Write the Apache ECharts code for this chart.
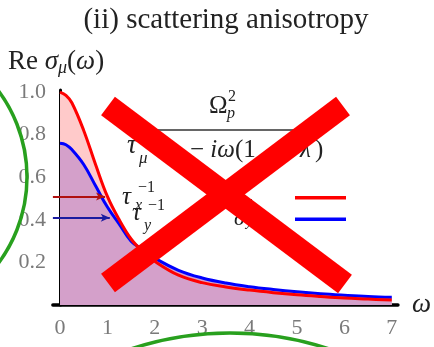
<!DOCTYPE html>
<html>
<head>
<meta charset="utf-8">
<script src="https://cdn.jsdelivr.net/npm/echarts@6/dist/echarts.min.js"></script>
<style>
  html, body { margin: 0; padding: 0; background: #fff; }
  #main { width: 434px; height: 347px; }
</style>
</head>
<body>
<div id="main"></div>
<script>
// values
const omega = [0, 0.125, 0.25, 0.5, 0.75, 1, 1.25, 1.5, 1.75, 2, 2.5, 3, 3.5, 4, 4.5, 5, 5.5, 6, 6.5, 7];
const sigmaX = [1.00, 0.985, 0.95, 0.82, 0.66, 0.51, 0.40, 0.31, 0.25, 0.205, 0.14, 0.105, 0.085, 0.07, 0.058, 0.048, 0.04, 0.033, 0.028, 0.023];
const sigmaY = [0.76, 0.753, 0.73, 0.66, 0.56, 0.46, 0.38, 0.30, 0.26, 0.22, 0.163, 0.127, 0.103, 0.086, 0.073, 0.062, 0.053, 0.046, 0.04, 0.036];
const xTicks = [0, 1, 2, 3, 4, 5, 6, 7];
const yTicks = [0.2, 0.4, 0.6, 0.8, 1.0];
// half-maximum arrows: [height, end omega]
const arrowX = [0.51, 0.95];
const arrowY = [0.41, 1.05];

const serif = '"Liberation Serif", "DejaVu Serif", serif';
const ink = '#222';

function pairs(xs, ys) {
  return xs.map(function (x, i) { return [x, ys[i]]; });
}

function txt(x, y, text, size, italic, align) {
  return {
    type: 'text', x: x, y: y, z: 50,
    style: {
      text: text,
      font: (italic ? 'italic ' : '') + size + 'px ' + serif,
      fill: ink,
      align: align || 'left', textAlign: align || 'left',
      verticalAlign: 'middle', textVerticalAlign: 'middle'
    }
  };
}

function arrowLine(a, color) {
  return {
    silent: true,
    symbol: ['none', 'arrow'],
    symbolSize: [6, 9],
    label: { show: false },
    lineStyle: { color: color, width: 2, type: 'solid' },
    data: [[{ coord: [-0.15, a[0]] }, { coord: [a[1], a[0]] }]]
  };
}

let dom = echarts.init(document.getElementById('main'));
dom.setOption({
  animation: false,
  grid: { left: 52.9, right: 36, top: 90, bottom: 42 },
  legend: {
    orient: 'vertical',
    left: 290, top: 191,
    icon: 'rect',
    itemWidth: 51, itemHeight: 3.5,
    itemGap: 18,
    formatter: function () { return ''; },
    textStyle: { fontSize: 4 },
    selectedMode: false,
    data: ['x', 'y']
  },
  xAxis: {
    type: 'value',
    min: -0.15, max: 7.13,
    name: 'ω',
    nameLocation: 'end',
    nameGap: 14,
    nameTextStyle: { fontFamily: serif, fontStyle: 'italic', fontSize: 27, color: ink, padding: [0, 0, 8, 0] },
    axisLine: { lineStyle: { color: '#000', width: 3.5 } },
    axisTick: { show: false },
    splitLine: { show: false },
    axisLabel: {
      customValues: xTicks,
      margin: 12,
      color: '#7a7a7a',
      fontFamily: serif,
      fontSize: 22
    }
  },
  yAxis: {
    type: 'value',
    min: 0, max: 1.01,
    axisLine: { onZero: true, lineStyle: { color: '#000', width: 3 } },
    axisTick: { show: false },
    splitLine: { show: false },
    axisLabel: {
      customValues: yTicks,
      margin: 7,
      color: '#7a7a7a',
      fontFamily: serif,
      fontSize: 22,
      formatter: function (v) { return v.toFixed(1); }
    }
  },
  series: [
    {
      name: 'xArea', type: 'line', smooth: 0.4, symbol: 'none',
      lineStyle: { width: 0 },
      areaStyle: { color: '#ffcaca', opacity: 1 },
      data: pairs(omega, sigmaX)
    },
    {
      name: 'yArea', type: 'line', smooth: 0.4, symbol: 'none',
      lineStyle: { width: 0 },
      areaStyle: { color: '#d4a0ca', opacity: 1 },
      data: pairs(omega, sigmaY)
    },
    {
      name: 'y', type: 'line', smooth: 0.4, symbol: 'none',
      itemStyle: { color: '#0000ff' },
      lineStyle: { color: '#0000ff', width: 3 },
      markLine: arrowLine(arrowY, '#1a1aa0'),
      data: pairs(omega, sigmaY)
    },
    {
      name: 'x', type: 'line', smooth: 0.4, symbol: 'none',
      itemStyle: { color: '#ff0000' },
      lineStyle: { color: '#ff0000', width: 3 },
      markLine: arrowLine(arrowX, '#b01010'),
      data: pairs(omega, sigmaX)
    }
  ],
  graphic: [
    // title and axis name
    txt(226, 20, '(ii) scattering anisotropy', 29, false, 'center'),
    {
      type: 'text', x: 8, y: 62, z: 50,
      style: {
        text: '{n|Re }{i|σ}{s|μ}{n|(}{i|ω}{n|)}',
        fill: ink, verticalAlign: 'middle', textVerticalAlign: 'middle',
        rich: {
          n: { font: '27px ' + serif, fill: ink },
          i: { font: 'italic 27px ' + serif, fill: ink },
          s: { font: 'italic 18px ' + serif, fill: ink, padding: [13, 0, 0, 0] }
        }
      }
    },
    // formula
    txt(209, 106, 'Ω', 25, false),
    txt(228, 97, '2', 16, false),
    txt(227, 114, 'p', 16, true),
    { type: 'line', z: 50, shape: { x1: 128, y1: 130, x2: 325, y2: 130 }, style: { stroke: '#333', lineWidth: 1.5 } },
    txt(127, 146, 'τ', 27, true),
    txt(139, 159, 'μ', 17, true),
    txt(142, 139, '−1', 16, false),
    {
      type: 'text', x: 190, y: 150, z: 50,
      style: {
        text: '{n|− }{i|iω}{n|(1}',
        fill: ink, verticalAlign: 'middle', textVerticalAlign: 'middle',
        rich: {
          n: { font: '25px ' + serif, fill: ink },
          i: { font: 'italic 25px ' + serif, fill: ink }
        }
      }
    },
    txt(272, 150, '±', 25, false),
    txt(300, 150, 'λ', 25, true),
    txt(315, 150, ')', 25, false),
    // tau labels
    txt(122, 197, 'τ', 25, true),
    txt(135, 206, 'x', 16, true),
    txt(138, 188, '−1', 16, false),
    txt(132, 213, 'τ', 25, true),
    txt(144, 226, 'y', 16, true),
    txt(148, 206, '−1', 16, false),
    txt(234, 200, 'σ', 22, true),
    txt(246, 202, 'x', 14, true),
    txt(234, 219, 'σ', 22, true),
    txt(246, 222, 'y', 14, true),
    // red cross
    { type: 'line', z: 100, shape: { x1: 108, y1: 106, x2: 345, y2: 284 }, style: { stroke: '#ff0000', lineWidth: 23, lineCap: 'butt' } },
    { type: 'line', z: 100, shape: { x1: 343, y1: 106, x2: 108, y2: 283 }, style: { stroke: '#ff0000', lineWidth: 23, lineCap: 'butt' } },
    // green circles
    { type: 'circle', z: 100, shape: { cx: -117, cy: 177, r: 144 }, style: { fill: 'none', stroke: '#28a01e', lineWidth: 3.5 } },
    { type: 'circle', z: 100, shape: { cx: 230, cy: 649, r: 316 }, style: { fill: 'none', stroke: '#28a01e', lineWidth: 3.5 } }
  ]
});
dom.resize();
</script>
</body>
</html>
